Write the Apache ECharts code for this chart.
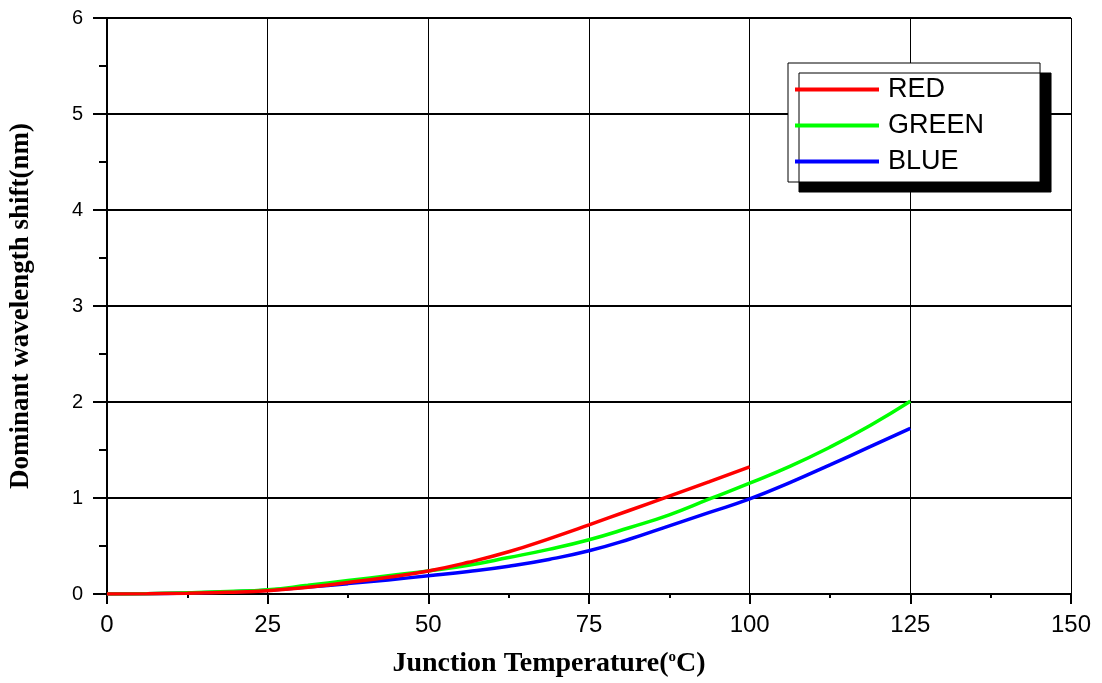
<!DOCTYPE html>
<html>
<head>
<meta charset="utf-8">
<script src="https://cdn.jsdelivr.net/npm/echarts@6/dist/echarts.min.js"></script>
<style>html,body{margin:0;padding:0;background:#fff}#c{width:1102px;height:683px}</style>
</head>
<body>
<div id="c"></div>
<script>
// Junction temperature (°C)
var tempRed = [0, 6.25, 12.5, 18.75, 25, 31.25, 37.5, 43.75, 50, 56.25, 62.5, 68.75, 75, 81.25, 87.5, 93.75, 100];
var tempGB = [0, 6.25, 12.5, 18.75, 25, 31.25, 37.5, 43.75, 50, 56.25, 62.5, 68.75, 75, 81.25, 87.5, 93.75, 100, 106.25, 112.5, 118.75, 125];
// Dominant wavelength shift (nm)
var redShift = [0, 0.002, 0.008, 0.018, 0.035, 0.07, 0.12, 0.175, 0.24, 0.33, 0.44, 0.575, 0.72, 0.87, 1.02, 1.17, 1.324];
var greenShift = [0, 0.003, 0.012, 0.025, 0.045, 0.09, 0.14, 0.19, 0.24, 0.30, 0.38, 0.465, 0.565, 0.69, 0.825, 0.99, 1.155, 1.33, 1.53, 1.755, 2.007];
var blueShift = [0, 0.003, 0.01, 0.022, 0.04, 0.072, 0.108, 0.147, 0.19, 0.235, 0.29, 0.36, 0.45, 0.57, 0.71, 0.85, 0.99, 1.16, 1.345, 1.535, 1.726];
var seriesNames = ['RED', 'GREEN', 'BLUE'];
var xTicks = [0, 25, 50, 75, 100, 125, 150];
var yTicks = [0, 1, 2, 3, 4, 5, 6];

function pairs(xs, ys) { return xs.map(function (x, i) { return [x, ys[i]]; }); }

var chart = echarts.init(document.getElementById('c'));
var serif = '"Liberation Serif","Times New Roman",serif';
var sans = '"Liberation Sans",Arial,sans-serif';
chart.setOption({
  animation: false,
  backgroundColor: '#fff',
  grid: { left: 106, right: 31, top: 18, bottom: 88 },
  legend: {
    left: 788, top: 63,
    orient: 'vertical',
    data: seriesNames,
    icon: 'path://M0,0H84V4H0Z',
    itemWidth: 84, itemHeight: 27, itemGap: 9,
    padding: [13, 56, 7, 7],
    backgroundColor: '#fff',
    borderColor: '#000', borderWidth: 1,
    shadowColor: '#000', shadowBlur: 0, shadowOffsetX: 11, shadowOffsetY: 10,
    textStyle: { fontFamily: sans, fontSize: 27, lineHeight: 27, color: '#000', padding: [0, 0, 0, 4] }
  },
  xAxis: [{
    type: 'value', min: 0, max: 150, interval: 25,
    position: 'bottom',
    axisLine: { lineStyle: { color: '#000', width: 2 } },
    axisTick: { length: 10, lineStyle: { color: '#000', width: 2 } },
    minorTick: { show: true, splitNumber: 2, length: 4, lineStyle: { color: '#000', width: 2 } },
    splitLine: { show: true, lineStyle: { color: '#000', width: 1 } },
    axisLabel: { color: '#000', fontFamily: sans, fontSize: 24, margin: 19,
      formatter: function (v) { return xTicks.indexOf(v) >= 0 ? String(v) : ''; } },
    name: 'Junction Temperature({sup|o}C)',
    nameLocation: 'middle', nameGap: 56,
    nameTextStyle: { color: '#000', fontFamily: serif, fontWeight: 'bold', fontSize: 28, padding: [0, 80, 0, 0],
      rich: { sup: { fontFamily: serif, fontWeight: 'bold', fontSize: 15, verticalAlign: 'top', padding: [0, 0, 12, 0] } } }
  }, {
    type: 'value', min: 0, max: 150, interval: 25,
    position: 'top',
    axisLine: { show: true, lineStyle: { color: '#000', width: 2 } },
    axisTick: { show: true, inside: true, length: 10, lineStyle: { color: '#000', width: 2 } },
    minorTick: { show: true, splitNumber: 2, length: 4, lineStyle: { color: '#000', width: 1 } },
    axisLabel: { show: false },
    splitLine: { show: false }
  }],
  yAxis: [{
    type: 'value', min: 0, max: 6, interval: 1,
    position: 'left',
    axisLine: { lineStyle: { color: '#000', width: 2 } },
    axisTick: { length: 14, lineStyle: { color: '#000', width: 2 } },
    minorTick: { show: true, splitNumber: 2, length: 8, lineStyle: { color: '#000', width: 2 } },
    splitLine: { show: true, lineStyle: { color: '#000', width: 2 } },
    axisLabel: { color: '#000', fontFamily: sans, fontSize: 20, margin: 24,
      formatter: function (v) { return yTicks.indexOf(v) >= 0 ? String(v) : ''; } },
    name: 'Dominant wavelength shift(nm)',
    nameLocation: 'middle', nameGap: 72,
    nameTextStyle: { color: '#000', fontFamily: serif, fontWeight: 'bold', fontSize: 27 }
  }, {
    type: 'value', min: 0, max: 6, interval: 1,
    position: 'right',
    axisLine: { show: true, lineStyle: { color: '#000', width: 2 } },
    axisTick: { show: true, inside: true, length: 8, lineStyle: { color: '#000', width: 2 } },
    minorTick: { show: true, splitNumber: 2, length: 8, lineStyle: { color: '#000', width: 2 } },
    axisLabel: { show: false },
    splitLine: { show: false }
  }],
  series: [
    { name: 'RED', type: 'line', data: pairs(tempRed, redShift), smooth: true, symbol: 'none', z: 5,
      color: '#ff0000', lineStyle: { width: 3.5, color: '#ff0000' } },
    { name: 'GREEN', type: 'line', data: pairs(tempGB, greenShift), smooth: true, symbol: 'none', z: 4,
      color: '#00ff00', lineStyle: { width: 3.5, color: '#00ff00' } },
    { name: 'BLUE', type: 'line', data: pairs(tempGB, blueShift), smooth: true, symbol: 'none', z: 3,
      color: '#0000ff', lineStyle: { width: 3.5, color: '#0000ff' } }
  ]
});
</script>
</body>
</html>
